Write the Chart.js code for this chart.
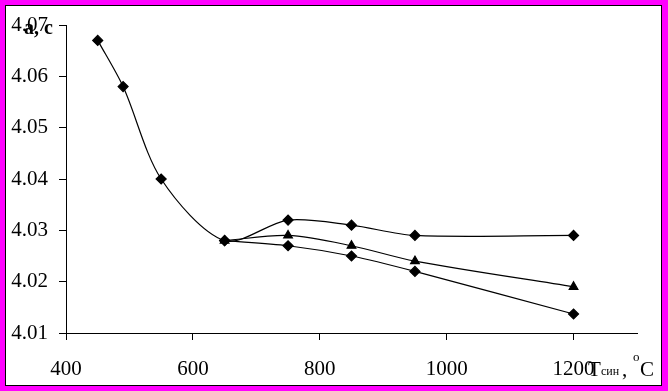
<!DOCTYPE html>
<html lang="ru">
<head>
  <meta charset="UTF-8" />
  <title>a, c vs T син</title>
  <script src="https://cdn.jsdelivr.net/npm/chart.js"></script>
  <style>
    html, body {
      margin: 0;
      padding: 0;
      background: #ff00ff;
      width: 668px;
      height: 391px;
      overflow: hidden;
    }
    .frame {
      position: absolute;
      left: 5px;
      top: 5px;
      width: 655px;
      height: 379px;
      background: #fff;
      border: 1px solid #000;
    }
    #chart {
      position: absolute;
      left: 0;
      top: 0;
    }
  </style>
</head>
<body>
  <div class="frame"></div>
  <canvas id="chart" width="668" height="391"></canvas>

  <script>
    // synthesis temperature, °C
    const tempsMain = [450, 490, 550, 650, 750, 850, 950, 1200];
    const tempsBranch = [650, 750, 850, 950, 1200];

    // lattice parameter values
    const upperSeries = [4.067, 4.058, 4.040, 4.028, 4.032, 4.031, 4.029, 4.029];
    const triangleSeries = [4.028, 4.029, 4.027, 4.024, 4.019];
    const lowerSeries = [4.028, 4.027, 4.025, 4.022, 4.0137];

    const xTicks = [400, 600, 800, 1000, 1200];
    const yTickLabels = ['4.01', '4.02', '4.03', '4.04', '4.05', '4.06', '4.07'];

    const serif = '"Liberation Serif", "Times New Roman", serif';

    function pts(xs, ys) {
      return xs.map((x, i) => ({ x: x, y: ys[i] }));
    }

    // axis captions drawn straight onto the canvas
    const captions = {
      id: 'captions',
      afterDraw(chart) {
        const c = chart.ctx;
        c.save();
        c.fillStyle = '#000';
        c.textBaseline = 'alphabetic';
        c.textAlign = 'left';
        c.font = 'bold 20px ' + serif;
        c.fillText('a, c', 24, 34);
        c.font = '21px ' + serif;
        c.fillText('T', 588, 376);
        c.font = '12px ' + serif;
        c.fillText('син', 601, 375);
        c.font = '21px ' + serif;
        c.fillText(',', 622, 376);
        c.font = '13px ' + serif;
        c.fillText('o', 633, 361);
        c.font = '21px ' + serif;
        c.fillText('C', 640, 376);
        c.restore();
      }
    };

    const common = {
      borderColor: '#000',
      backgroundColor: '#000',
      pointBackgroundColor: '#000',
      pointBorderColor: '#000',
      borderWidth: 1.2,
      tension: 0.3,
      fill: false
    };

    new Chart(document.getElementById('chart'), {
      type: 'line',
      data: {
        datasets: [
          Object.assign({ data: pts(tempsMain, upperSeries), pointStyle: 'rectRot', pointRadius: 5 }, common),
          Object.assign({ data: pts(tempsBranch, triangleSeries), pointStyle: 'triangle', pointRadius: 5 }, common),
          Object.assign({ data: pts(tempsBranch, lowerSeries), pointStyle: 'rectRot', pointRadius: 5 }, common)
        ]
      },
      options: {
        responsive: false,
        animation: false,
        layout: { padding: { top: 25, right: 31, left: 0, bottom: 0 } },
        plugins: {
          legend: { display: false },
          tooltip: { enabled: false }
        },
        scales: {
          x: {
            type: 'linear',
            min: 400,
            max: 1300,
            afterBuildTicks(scale) {
              scale.ticks = xTicks.map(v => ({ value: v }));
            },
            afterFit(scale) { scale.height = 58; },
            grid: { display: true, drawOnChartArea: false, drawTicks: true, tickLength: 7, color: '#000' },
            border: { display: true, color: '#000', width: 1 },
            ticks: {
              color: '#000',
              padding: 17,
              maxRotation: 0,
              font: { family: serif, size: 21 },
              callback: (v) => String(v)
            }
          },
          y: {
            type: 'linear',
            min: 4.01,
            max: 4.07,
            afterBuildTicks(scale) {
              scale.ticks = yTickLabels.map(v => ({ value: parseFloat(v) }));
            },
            afterFit(scale) { scale.width = 66; },
            grid: { display: true, drawOnChartArea: false, drawTicks: true, tickLength: 7, color: '#000' },
            border: { display: true, color: '#000', width: 1 },
            ticks: {
              color: '#000',
              padding: 11,
              font: { family: serif, size: 21 },
              callback: (v) => yTickLabels.find(t => Math.abs(parseFloat(t) - v) < 1e-6) || ''
            }
          }
        }
      },
      plugins: [captions]
    });
  </script>
</body>
</html>
